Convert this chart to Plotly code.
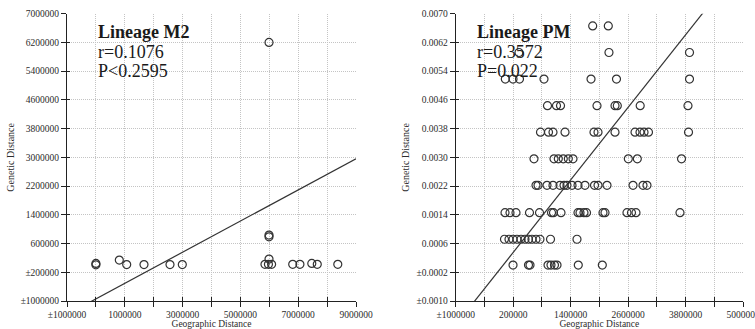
import plotly.graph_objects as go

# ---------------- data: Lineage M2 ----------------
m2_geo = [0, 0, 810000, 1066000, 1664000, 2564000, 2990000,
          5850000, 5970000, 6080000, 5990000, 5990000, 5990000, 5990000,
          6810000, 7060000, 7470000, 7660000, 8370000]
m2_gen = [8000, 47000, 139000, 15000, 15000, 15000, 15000,
          20000, 20000, 20000, 167000, 788000, 836000, 6200000,
          20000, 20000, 47000, 20000, 20000]
m2_slope = 0.4335
m2_intercept = -941500
m2_r_text = "r=0.1076"
m2_p_text = "P<0.2595"

# ---------------- data: Lineage PM ----------------
pm_levels = [0.00666, 0.00592, 0.00518, 0.00444, 0.00370, 0.00296,
             0.00222, 0.00146, 0.00072, 0.0]
pm_rows_geo = [
    [1861000, 2187000],
    [322000, 2201000, 3883000],
    [36000, 197000, 332000, 844000, 1826000, 2358000, 3883000],
    [917000, 1105000, 1189000, 1951000, 2327000, 2375000, 2853000, 3851000],
    [771000, 938000, 1032000, 1283000, 1888000, 1972000, 2327000, 2745000,
     2849000, 2933000, 3026000, 3862000],
    [635000, 1053000, 1143000, 1247000, 1352000, 1450000, 2605000, 2793000,
     3716000],
    [677000, 719000, 907000, 1032000, 1178000, 1262000, 1324000, 1429000,
     1554000, 1700000, 1899000, 1972000, 2160000, 2703000, 2912000, 2995000],
    [30000, 134000, 259000, 541000, 750000, 1001000, 1042000, 1199000,
     1554000, 1596000, 1679000, 1732000, 2076000, 2118000, 2577000, 2671000,
     2765000, 3684000],
    [19000, 113000, 197000, 280000, 364000, 447000, 520000, 593000, 677000,
     760000, 980000, 1533000],
    [197000, 520000, 552000, 928000, 990000, 1063000, 1116000, 1560000,
     2062000],
]
pm_slope = 1.683e-9
pm_intercept = 0.000015
pm_r_text = "r=0.3572"
pm_p_text = "P=0.022"

# tick values / labels
m2_xticks = [-1000000, 0, 1000000, 2000000, 3000000, 4000000, 5000000,
             6000000, 7000000, 8000000, 9000000]
m2_xlabels = ["±1000000", "", "1000000", "", "3000000", "", "5000000", "",
              "7000000", "", "9000000"]
m2_yticks = [-1000000, -200000, 600000, 1400000, 2200000, 3000000, 3800000,
             4600000, 5400000, 6200000, 7000000]
m2_ylabels = ["±1000000", "±200000", "600000", "1400000", "2200000",
              "3000000", "3800000", "4600000", "5400000", "6200000", "7000000"]

pm_xticks = [-1000000, -400000, 200000, 800000, 1400000, 2000000, 2600000,
             3200000, 3800000, 4400000, 5000000]
pm_xlabels = ["±1000000", "", "200000", "", "1400000", "", "2600000", "",
              "3800000", "", "5000000"]
pm_yticks = [-0.0010, -0.0002, 0.0006, 0.0014, 0.0022, 0.0030, 0.0038,
             0.0046, 0.0054, 0.0062, 0.0070]
pm_ylabels = ["±0.0010", "±0.0002", "0.0006", "0.0014", "0.0022", "0.0030",
              "0.0038", "0.0046", "0.0054", "0.0062", "0.0070"]

# ---------------- build ----------------
pm_geo, pm_gen = [], []
for lvl, row in zip(pm_levels, pm_rows_geo):
    for gx in row:
        pm_geo.append(gx)
        pm_gen.append(lvl)

FONT = "Liberation Serif"
INK = "#2b2b2b"
marker = dict(symbol="circle-open", size=8, color="#333333",
              line=dict(width=1.2, color="#333333"))

fig = go.Figure()
fig.add_trace(go.Scatter(x=m2_geo, y=m2_gen, mode="markers", marker=marker,
                         xaxis="x", yaxis="y", showlegend=False))
lx = [-1000000, 9000000]
fig.add_trace(go.Scatter(x=lx, y=[m2_intercept + m2_slope * v for v in lx],
                         mode="lines", line=dict(color="#333333", width=1.2),
                         xaxis="x", yaxis="y", showlegend=False))
fig.add_trace(go.Scatter(x=pm_geo, y=pm_gen, mode="markers", marker=marker,
                         xaxis="x2", yaxis="y2", showlegend=False))
px_ = [-1000000, 5000000]
fig.add_trace(go.Scatter(x=px_, y=[pm_intercept + pm_slope * v for v in px_],
                         mode="lines", line=dict(color="#333333", width=1.2),
                         xaxis="x2", yaxis="y2", showlegend=False))
# invisible traces to carry the inner-tick overlay axes
fig.add_trace(go.Scatter(x=[None], y=[None], xaxis="x3", yaxis="y3",
                         showlegend=False, hoverinfo="skip"))
fig.add_trace(go.Scatter(x=[None], y=[None], xaxis="x4", yaxis="y4",
                         showlegend=False, hoverinfo="skip"))

W, H = 755, 329
dl = [67 / W, 356 / W]
dr = [455.7 / W, 743 / W]
dy = [1 - 301 / H, 1 - 13.7 / H]

tickfont = dict(family=FONT, size=9.5, color=INK)
grid = dict(showgrid=True, gridcolor="#c4c4c4", griddash="1px,1px", gridwidth=1)
axbase = dict(showline=True, linecolor="#222222", linewidth=1,
              ticks="outside", ticklen=5, tickcolor="#222222", tickwidth=1,
              zeroline=False, tickmode="array", automargin=False,
              tickfont=tickfont, ticklabeloverflow="allow")
xtitle_font = dict(family=FONT, size=9.5, color=INK)
ytitle_font = dict(family=FONT, size=10, color=INK)

fig.update_layout(
    width=W, height=H, margin=dict(l=0, r=0, t=0, b=0),
    paper_bgcolor="white", plot_bgcolor="white",
    font=dict(family=FONT, color=INK),
    xaxis=dict(domain=dl, anchor="y", range=[-1000000, 9000000],
               tickvals=m2_xticks, ticktext=m2_xlabels,
               title=dict(text="Geographic Distance", standoff=1,
                          font=xtitle_font),
               **grid, **axbase),
    yaxis=dict(domain=dy, anchor="x", range=[-1000000, 7000000],
               tickvals=m2_yticks, ticktext=m2_ylabels,
               title=dict(text="Genetic Distance", standoff=4,
                          font=ytitle_font),
               **grid, **axbase),
    xaxis2=dict(domain=dr, anchor="y2", range=[-1000000, 5000000],
                tickvals=pm_xticks, ticktext=pm_xlabels,
                title=dict(text="Geographic Distance", standoff=1,
                           font=xtitle_font),
                **grid, **axbase),
    yaxis2=dict(domain=dy, anchor="x2", range=[-0.0010, 0.0070],
                tickvals=pm_yticks, ticktext=pm_ylabels,
                title=dict(text="Genetic Distance", standoff=4,
                           font=ytitle_font),
                **grid, **axbase),
    xaxis3=dict(overlaying="x", anchor="y", range=[-1000000, 9000000],
                tickmode="array", tickvals=m2_xticks, showticklabels=False,
                ticks="inside", ticklen=4, tickcolor="#222222",
                showgrid=False, zeroline=False, showline=False),
    yaxis3=dict(overlaying="y", anchor="x", range=[-1000000, 7000000],
                tickmode="array", tickvals=m2_yticks, showticklabels=False,
                ticks="inside", ticklen=3, tickcolor="#222222",
                showgrid=False, zeroline=False, showline=False),
    xaxis4=dict(overlaying="x2", anchor="y2", range=[-1000000, 5000000],
                tickmode="array", tickvals=pm_xticks, showticklabels=False,
                ticks="inside", ticklen=4, tickcolor="#222222",
                showgrid=False, zeroline=False, showline=False),
    yaxis4=dict(overlaying="y2", anchor="x2", range=[-0.0010, 0.0070],
                tickmode="array", tickvals=pm_yticks, showticklabels=False,
                ticks="inside", ticklen=3, tickcolor="#222222",
                showgrid=False, zeroline=False, showline=False),
)

def label(xref, yref, x0, lines):
    ys = [0.936, 0.866, 0.800]
    for (txt, bold), yy in zip(lines, ys):
        fig.add_annotation(
            xref=xref + " domain", yref=yref + " domain", x=x0, y=yy,
            xanchor="left", yanchor="middle", showarrow=False,
            text=("<b>%s</b>" % txt) if bold else txt,
            font=dict(family=FONT, size=18, color="#1a1a1a"))

label("x", "y", 0.102, [("Lineage M2", True), (m2_r_text, False), (m2_p_text, False)])
label("x2", "y2", 0.068, [("Lineage PM", True), (pm_r_text, False), (pm_p_text, False)])

fig.write_html("out.html")
